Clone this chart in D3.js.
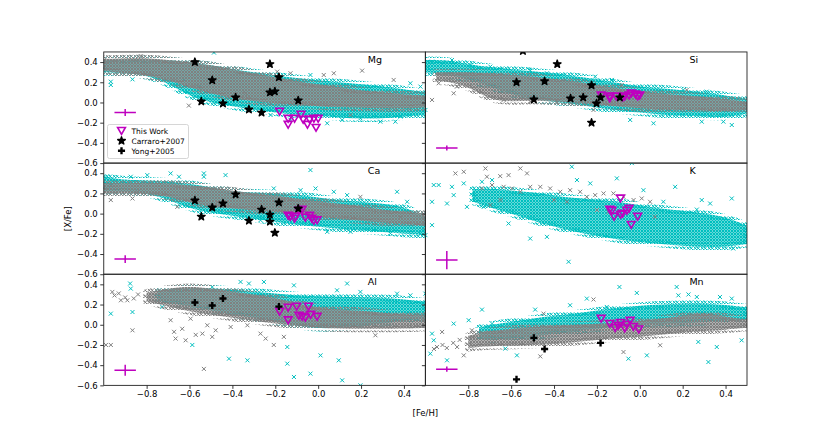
<!DOCTYPE html>
<html>
<head>
<meta charset="utf-8">
<script src="https://cdn.jsdelivr.net/npm/d3@7"></script>
<style>
body { margin: 0; background: #fff; }
text { font-family: "DejaVu Sans", sans-serif; }
</style>
</head>
<body>
<svg id="chart" width="830" height="433"></svg>
<script>
var elements = ['Mg', 'Si', 'Ca', 'K', 'Al', 'Mn'];
var fehTicks = [-0.8, -0.6, -0.4, -0.2, 0.0, 0.2, 0.4];
var xfeTicks = [0.4, 0.2, 0.0, -0.2, -0.4, -0.6];

// literature stars
var carraroFeh = [-0.575, -0.545, -0.494, -0.444, -0.385, -0.323, -0.264, -0.225, -0.225, -0.202, -0.183, -0.093];
var carraroMg = [0.40, 0.01, 0.22, -0.01, 0.05, -0.07, -0.10, 0.38, 0.10, 0.11, 0.25, 0.02];
var carraroSi = [0.20, 0.51, 0.03, 0.21, 0.38, 0.04, 0.05, 0.17, -0.20, -0.01, 0.05, 0.05];
var carraroCa = [0.13, -0.03, 0.06, 0.10, 0.19, -0.07, 0.04, -0.01, -0.08, -0.19, 0.11, 0.05];
var yongFeh = [-0.575, -0.494, -0.444, -0.183];
var yongAl = [0.22, 0.19, 0.26, 0.18];
var yongMn = [-0.54, -0.13, -0.24, -0.18];

// this work [Fe/H, X/Fe]
var twMg = [[-0.18, -0.09], [-0.14, -0.16], [-0.14, -0.22], [-0.11, -0.16], [-0.08, -0.12], [-0.07, -0.17], [-0.04, -0.17], [-0.05, -0.22], [-0.02, -0.16], [-0.01, -0.25], [0.0, -0.16]];
var twSi = [[-0.18, 0.07], [-0.14, 0.06], [-0.14, 0.04], [-0.11, 0.06], [-0.08, 0.05], [-0.07, 0.06], [-0.04, 0.09], [-0.05, 0.07], [-0.02, 0.08], [-0.01, 0.06], [0.0, 0.07]];
var twCa = [[-0.14, -0.02], [-0.11, -0.05], [-0.09, 0.03], [-0.075, 0.04], [-0.04, -0.02], [-0.02, -0.07], [-0.005, -0.065], [-0.105, -0.03], [-0.13, -0.03], [-0.06, -0.04], [-0.03, -0.05]];
var twK = [[-0.09, 0.15], [-0.14, 0.04], [-0.12, -0.03], [-0.09, -0.01], [-0.08, 0.0], [-0.05, 0.05], [-0.01, -0.03], [-0.04, -0.11], [-0.13, 0.03], [-0.06, 0.03]];
var twAl = [[-0.18, 0.13], [-0.14, 0.17], [-0.10, 0.18], [-0.14, 0.045], [-0.075, 0.08], [-0.045, 0.18], [-0.035, 0.10], [-0.005, 0.08], [-0.09, 0.09], [-0.06, 0.07]];
var twMn = [[-0.18, 0.06], [-0.14, 0.01], [-0.115, -0.03], [-0.09, 0.02], [-0.07, -0.035], [-0.045, 0.04], [-0.03, -0.02], [-0.005, -0.045], [-0.10, -0.01], [-0.06, 0.0]];

// typical errors [feh, x/fe, xerr, yerr]
var errMg = [-0.9, -0.10, 0.05, 0.035];
var errSi = [-0.9, -0.45, 0.05, 0.025];
var errCa = [-0.9, -0.45, 0.05, 0.038];
var errK = [-0.9, -0.46, 0.05, 0.09];
var errAl = [-0.9, -0.45, 0.05, 0.055];
var errMn = [-0.9, -0.44, 0.05, 0.026];

// dense parts of the comparison samples [feh, low, high]
var mgCyanBand = [[-1.0, 0.30, 0.42], [-0.9, 0.29, 0.43], [-0.8, 0.27, 0.43], [-0.7, 0.19, 0.42], [-0.6, 0.06, 0.40], [-0.5, 0.0, 0.37], [-0.4, -0.04, 0.33], [-0.3, -0.07, 0.30], [-0.2, -0.10, 0.27], [-0.1, -0.12, 0.24], [0.0, -0.13, 0.22], [0.1, -0.15, 0.20], [0.2, -0.16, 0.18], [0.3, -0.16, 0.16], [0.4, -0.14, 0.13], [0.5, -0.12, 0.10]];
var mgGrayBand = [[-1.0, 0.31, 0.43], [-0.9, 0.29, 0.44], [-0.8, 0.27, 0.44], [-0.7, 0.22, 0.42], [-0.6, 0.15, 0.40], [-0.5, 0.09, 0.37], [-0.4, 0.04, 0.33], [-0.3, 0.01, 0.29], [-0.2, -0.01, 0.25], [-0.1, -0.02, 0.21], [0.0, -0.04, 0.18], [0.1, -0.05, 0.15], [0.2, -0.05, 0.12], [0.3, -0.06, 0.10], [0.4, -0.06, 0.08], [0.5, -0.05, 0.07]];
var siCyanBand = [[-1.0, 0.30, 0.42], [-0.9, 0.28, 0.42], [-0.8, 0.23, 0.38], [-0.7, 0.16, 0.35], [-0.6, 0.08, 0.33], [-0.5, 0.03, 0.31], [-0.4, 0.01, 0.29], [-0.3, -0.02, 0.26], [-0.2, -0.05, 0.23], [-0.1, -0.08, 0.19], [0.0, -0.10, 0.16], [0.1, -0.12, 0.14], [0.2, -0.13, 0.12], [0.3, -0.14, 0.10], [0.4, -0.15, 0.07], [0.5, -0.11, 0.04]];
var siGrayBand = [[-0.95, 0.22, 0.30], [-0.8, 0.17, 0.30], [-0.7, 0.02, 0.29], [-0.6, 0.01, 0.27], [-0.5, 0.02, 0.26], [-0.4, 0.01, 0.23], [-0.3, 0.0, 0.21], [-0.2, -0.02, 0.17], [-0.1, -0.04, 0.14], [0.0, -0.06, 0.11], [0.1, -0.07, 0.09], [0.2, -0.07, 0.07], [0.3, -0.08, 0.06], [0.4, -0.09, 0.03], [0.5, -0.07, 0.01]];
var caCyanBand = [[-1.0, 0.22, 0.37], [-0.9, 0.22, 0.33], [-0.8, 0.20, 0.33], [-0.7, 0.14, 0.32], [-0.6, 0.05, 0.30], [-0.5, 0.01, 0.26], [-0.4, -0.02, 0.22], [-0.3, -0.05, 0.21], [-0.2, -0.08, 0.20], [-0.1, -0.11, 0.19], [0.0, -0.13, 0.16], [0.1, -0.15, 0.13], [0.2, -0.17, 0.12], [0.3, -0.18, 0.10], [0.4, -0.20, 0.07], [0.5, -0.21, -0.03]];
var caGrayBand = [[-1.0, 0.20, 0.30], [-0.9, 0.20, 0.30], [-0.8, 0.20, 0.31], [-0.7, 0.17, 0.30], [-0.6, 0.11, 0.28], [-0.5, 0.07, 0.26], [-0.4, 0.05, 0.23], [-0.3, 0.03, 0.20], [-0.2, 0.02, 0.18], [-0.1, 0.0, 0.15], [0.0, -0.03, 0.12], [0.1, -0.05, 0.10], [0.2, -0.07, 0.07], [0.3, -0.09, 0.04], [0.4, -0.10, 0.02], [0.5, -0.12, 0.0]];
var kCyanBand = [[-0.78, 0.12, 0.24], [-0.7, 0.06, 0.25], [-0.6, 0.0, 0.23], [-0.5, -0.07, 0.21], [-0.4, -0.13, 0.18], [-0.3, -0.18, 0.15], [-0.2, -0.22, 0.14], [-0.1, -0.26, 0.12], [0.0, -0.28, 0.08], [0.1, -0.30, 0.05], [0.2, -0.32, 0.03], [0.3, -0.33, 0.0], [0.4, -0.33, -0.03], [0.5, -0.30, -0.12]];
var kGrayBand = [];
var alCyanBand = [[-0.75, 0.24, 0.34], [-0.6, 0.18, 0.37], [-0.5, 0.14, 0.36], [-0.4, 0.10, 0.35], [-0.3, 0.07, 0.33], [-0.2, 0.03, 0.31], [-0.1, -0.01, 0.29], [0.0, -0.04, 0.28], [0.1, -0.03, 0.28], [0.2, -0.01, 0.27], [0.3, 0.01, 0.27], [0.4, 0.04, 0.25], [0.5, 0.06, 0.23]];
var alGrayBand = [[-0.8, 0.23, 0.32], [-0.7, 0.18, 0.36], [-0.6, 0.13, 0.38], [-0.5, 0.10, 0.36], [-0.4, 0.07, 0.33], [-0.3, 0.04, 0.30], [-0.2, 0.01, 0.27], [-0.1, -0.01, 0.21], [0.0, -0.03, 0.17], [0.1, -0.04, 0.15], [0.2, -0.04, 0.14], [0.3, -0.04, 0.12], [0.4, -0.04, 0.10], [0.5, -0.03, 0.10]];
var mnCyanBand = [[-0.75, -0.13, -0.03], [-0.7, -0.15, 0.0], [-0.6, -0.14, 0.03], [-0.5, -0.12, 0.06], [-0.4, -0.09, 0.09], [-0.3, -0.06, 0.11], [-0.2, -0.04, 0.14], [-0.1, -0.02, 0.17], [0.0, 0.0, 0.19], [0.1, 0.01, 0.20], [0.2, 0.01, 0.21], [0.3, 0.03, 0.21], [0.4, 0.04, 0.20], [0.5, 0.05, 0.17]];
var mnGrayBand = [[-0.8, -0.23, -0.11], [-0.75, -0.22, -0.08], [-0.7, -0.21, -0.06], [-0.6, -0.21, -0.04], [-0.5, -0.20, -0.02], [-0.4, -0.19, -0.01], [-0.3, -0.17, 0.0], [-0.2, -0.15, 0.01], [-0.1, -0.13, 0.02], [0.0, -0.12, 0.04], [0.1, -0.10, 0.06], [0.2, -0.08, 0.09], [0.3, -0.06, 0.12], [0.4, -0.05, 0.08], [0.5, -0.03, 0.05]];

// scattered stars outside the dense parts [feh, x/fe]
var mgCyanPts = [[-0.967, 0.206], [-0.967, 0.173], [-0.866, 0.229], [-0.486, 0.494], [0.042, -0.206], [0.36, -0.19], [0.43, 0.19], [-0.036, 0.272], [0.197, -0.157], [-0.129, -0.173], [-0.222, -0.124], [-0.556, 0.157], [-0.626, 0.223], [0.477, 0.157], [0.384, -0.14], [0.29, -0.19], [0.112, -0.173]];
var mgGrayPts = [[-0.603, -0.031], [0.205, 0.315], [0.026, 0.272], [0.073, 0.289], [-0.828, 0.46], [-0.998, 0.42], [-0.339, 0.091], [0.352, 0.223], [0.151, -0.124], [-0.191, 0.305], [-0.129, 0.289]];
var siCyanPts = [[-0.969, 0.404], [-0.915, 0.394], [-0.876, 0.42], [-0.79, 0.371], [-0.697, 0.355], [-0.208, 0.256], [-0.13, 0.223], [-0.045, -0.173], [0.064, -0.206], [0.289, -0.19], [0.39, -0.19], [0.429, -0.223], [0.312, 0.107], [0.203, 0.124], [-1.0, -0.074], [-0.433, 0.289], [-0.511, 0.32]];
var siGrayPts = [[-0.969, 0.025], [-0.938, 0.19], [-0.868, 0.091], [-0.853, 0.157], [-0.216, -0.074], [-0.084, 0.173], [0.219, 0.124], [-0.511, 0.008], [-0.387, 0.008], [-0.635, 0.025]];
var caCyanPts = [[-1.0, 0.365], [-0.967, 0.282], [-0.874, 0.365], [-0.797, 0.381], [-0.688, 0.398], [-0.649, 0.365], [-0.533, 0.365], [-0.533, 0.398], [-0.432, 0.381], [-0.036, 0.431], [-0.012, 0.249], [-0.207, 0.249], [-0.082, 0.232], [0.073, 0.216], [0.135, 0.183], [0.368, 0.216], [0.415, 0.117], [0.197, 0.067], [0.477, -0.196], [0.151, -0.18], [0.042, -0.18], [-0.269, -0.065], [-0.331, -0.048], [0.26, -0.163], [0.337, -0.196]];
var caGrayPts = [[-0.967, 0.134], [-0.866, 0.15], [-0.843, 0.216], [-0.657, 0.067], [-0.579, 0.134], [-0.47, 0.117], [0.384, -0.032], [0.197, 0.166]];
var kCyanPts = [[-0.961, 0.283], [-0.938, 0.283], [-0.876, 0.265], [-0.821, 0.299], [-0.775, 0.183], [-0.868, 0.183], [-0.899, 0.1], [-0.806, 0.067], [-0.969, 0.117], [-0.969, -0.114], [-1.0, -0.213], [-0.736, 0.315], [-0.689, 0.332], [-0.728, 0.067], [-0.612, -0.098], [-0.511, -0.247], [-0.433, -0.23], [-0.332, -0.477], [-0.317, 0.464], [-0.107, 0.349], [-0.037, 0.5], [0.165, 0.265], [0.266, 0.04], [0.289, 0.134], [0.429, 0.15], [0.436, -0.345], [0.328, 0.1], [0.11, 0.117], [0.017, 0.232], [-0.231, 0.299], [-0.293, 0.332]];
var kGrayPts = [[-0.86, 0.398], [-0.821, 0.414], [-0.72, 0.447], [-0.713, 0.365], [-0.651, 0.371], [-0.612, 0.381], [-0.557, 0.447], [-0.526, 0.398], [-0.736, 0.249], [-0.689, 0.283], [-0.635, 0.265], [-0.596, 0.249], [-0.557, 0.216], [-0.511, 0.265], [-0.464, 0.265], [-0.418, 0.249], [-0.371, 0.216], [-0.325, 0.232], [-0.278, 0.216], [-0.247, 0.166], [-0.208, 0.183], [-0.169, 0.2], [-0.123, 0.2], [-0.076, 0.166], [-0.029, 0.134], [0.009, 0.15], [0.048, 0.117], [0.071, -0.032], [-0.2, 0.035], [-0.146, 0.018], [-0.697, 0.084], [-0.65, 0.134], [-0.4, 0.134], [-0.34, 0.117]];
var alCyanPts = [[-0.967, 0.11], [-0.877, 0.408], [-0.874, 0.358], [-0.866, 0.126], [-0.727, 0.176], [-0.587, -0.2], [-0.494, 0.374], [-0.416, -0.336], [-0.33, -0.352], [-0.362, 0.424], [-0.323, 0.408], [-0.253, 0.424], [-0.144, -0.22], [-0.144, -0.385], [-0.113, -0.517], [-0.036, -0.484], [0.011, -0.303], [0.096, -0.352], [0.112, -0.55], [0.197, -0.6], [0.135, 0.408], [0.368, 0.308], [0.43, 0.291], [0.5, 0.308], [-0.113, 0.39], [0.088, 0.341], [0.197, 0.325]];
var alGrayPts = [[-0.96, 0.325], [-0.92, 0.242], [-0.89, 0.242], [-0.95, 0.29], [-0.93, 0.31], [-0.9, 0.27], [-0.86, 0.26], [-0.84, 0.3], [-0.99, -0.2], [-0.967, -0.2], [-0.866, -0.055], [-0.688, 0.045], [-0.672, -0.07], [-0.665, -0.137], [-0.634, -0.04], [-0.618, -0.154], [-0.595, 0.06], [-0.571, -0.1], [-0.54, -0.088], [-0.517, -0.005], [-0.494, -0.12], [-0.478, -0.055], [-0.408, -0.022], [-0.533, -0.437], [-0.33, -0.005], [-0.269, -0.088], [-0.207, -0.2], [-0.16, -0.12], [-0.245, -0.137], [0.267, -0.104]];
var mnCyanPts = [[-0.969, -0.088], [-0.961, -0.154], [-0.977, -0.286], [-0.899, -0.352], [-0.868, 0.011], [-0.798, 0.045], [-0.736, 0.15], [-0.689, 0.011], [-0.627, -0.236], [-0.573, -0.303], [-0.488, 0.15], [-0.325, 0.193], [-0.247, 0.259], [-0.095, 0.374], [-0.014, 0.315], [-0.053, -0.336], [0.033, -0.303], [0.172, 0.374], [0.18, 0.291], [0.227, 0.3], [0.266, 0.275], [0.32, -0.369], [0.429, 0.259], [0.475, -0.154], [0.359, -0.22], [0.273, -0.17], [0.374, 0.275], [-0.154, 0.176]];
var mnGrayPts = [[-0.922, -0.071], [-0.946, -0.22], [-0.852, -0.22], [-0.821, -0.303], [-0.783, -0.055], [-0.96, -0.24], [-0.92, -0.2], [-0.9, -0.23], [-0.87, -0.18], [-0.84, -0.15], [-0.464, -0.313], [-0.449, 0.11], [-0.216, 0.25], [-0.076, -0.27], [0.095, -0.203]];

var pair = function (feh, vals) {
  return feh.map(function (f, i) { return [f, vals[i]]; });
};

var panels = [
  { name: 'Mg', cyanBand: mgCyanBand, grayBand: mgGrayBand, cyanPts: mgCyanPts, grayPts: mgGrayPts, tw: twMg, err: errMg, stars: pair(carraroFeh, carraroMg), plus: [] },
  { name: 'Si', cyanBand: siCyanBand, grayBand: siGrayBand, cyanPts: siCyanPts, grayPts: siGrayPts, tw: twSi, err: errSi, stars: pair(carraroFeh, carraroSi), plus: [] },
  { name: 'Ca', cyanBand: caCyanBand, grayBand: caGrayBand, cyanPts: caCyanPts, grayPts: caGrayPts, tw: twCa, err: errCa, stars: pair(carraroFeh, carraroCa), plus: [] },
  { name: 'K', cyanBand: kCyanBand, grayBand: kGrayBand, cyanPts: kCyanPts, grayPts: kGrayPts, tw: twK, err: errK, stars: [], plus: [] },
  { name: 'Al', cyanBand: alCyanBand, grayBand: alGrayBand, cyanPts: alCyanPts, grayPts: alGrayPts, tw: twAl, err: errAl, stars: [], plus: pair(yongFeh, yongAl) },
  { name: 'Mn', cyanBand: mnCyanBand, grayBand: mnGrayBand, cyanPts: mnCyanPts, grayPts: mnGrayPts, tw: twMn, err: errMn, stars: [], plus: pair(yongFeh, yongMn) }
];

var cyan = '#00bfbf', grey = '#808080', magenta = '#bf00bf';
var figLeft = 103.75, figRight = 747, figTop = 51.96, figBottom = 385.37;
var colW = (figRight - figLeft) / 2, rowH = (figBottom - figTop) / 3;
var fmt = d3.format('.1f');

var svg = d3.select('#chart');
var defs = svg.append('defs');

// textures standing in for thousands of overlapping 'x' markers:
// a dense one for the core of each sample and a loose one for its ragged edge
[['cyan', cyan], ['grey', grey]].forEach(function (p) {
  var core = defs.append('pattern')
    .attr('id', p[0] + 'Core')
    .attr('width', 3)
    .attr('height', 3)
    .attr('patternUnits', 'userSpaceOnUse');
  core.append('rect')
    .attr('width', 3).attr('height', 3)
    .attr('fill', p[1]).attr('fill-opacity', 0.6);
  core.append('path')
    .attr('d', 'M0,0L3,3M3,0L0,3')
    .attr('stroke', p[1])
    .attr('stroke-width', 1);

  var edge = defs.append('pattern')
    .attr('id', p[0] + 'Edge')
    .attr('width', 7)
    .attr('height', 6)
    .attr('patternUnits', 'userSpaceOnUse');
  edge.append('path')
    .attr('d', 'M0.5,0.5L4,4M4,0.5L0.5,4')
    .attr('stroke', p[1])
    .attr('stroke-width', 1);
  edge.append('path')
    .attr('d', 'M3.5,3.5L7,7M7,3.5L3.5,7')
    .attr('stroke', p[1])
    .attr('stroke-width', 1)
    .attr('transform', 'translate(0,-3)');
});

var crossPath = 'M-2,-2L2,2M-2,2L2,-2';
var triPath = 'M-3.9,-3.3L3.9,-3.3L0,3.5Z';
var starSymbol = d3.symbol().type(d3.symbolStar).size(18);
var plusSymbol = d3.symbol().type(d3.symbolCross).size(28);

var drawStar = function (sel) {
  sel.append('path')
    .attr('d', starSymbol)
    .attr('fill', '#000')
    .attr('stroke', '#000')
    .attr('stroke-width', 1.4)
    .attr('stroke-linejoin', 'round');
};

panels.forEach(function (p, i) {
  var col = i % 2, row = Math.floor(i / 2);
  var x0 = figLeft + col * colW, y0 = figTop + row * rowH;
  var x = d3.scaleLinear().domain([-1.0, 0.5]).range([x0, x0 + colW]);
  var y = d3.scaleLinear().domain([-0.6, 0.5]).range([y0 + rowH, y0]);
  var place = function (d) { return 'translate(' + x(d[0]) + ',' + y(d[1]) + ')'; };

  defs.append('clipPath').attr('id', 'clip' + p.name)
    .append('rect').attr('x', x0).attr('y', y0).attr('width', colW).attr('height', rowH);

  var g = svg.append('g').attr('clip-path', 'url(#clip' + p.name + ')');

  var area = d3.area()
    .x(function (d) { return x(d[0]); })
    .y0(function (d) { return y(d[1]); })
    .y1(function (d) { return y(d[2]); })
    .curve(d3.curveBasis);

  var drawCloud = function (band, pts, color, name) {
    if (band.length) {
      g.append('path').datum(band)
        .attr('d', area)
        .attr('fill', 'none')
        .attr('stroke', 'url(#' + name + 'Edge)')
        .attr('stroke-width', 7)
        .attr('stroke-linejoin', 'round');
      g.append('path').datum(band)
        .attr('d', area)
        .attr('fill', 'url(#' + name + 'Core)');
    }
    g.selectAll(null).data(pts).enter().append('path')
      .attr('d', crossPath)
      .attr('transform', place)
      .attr('fill', 'none')
      .attr('stroke', color)
      .attr('stroke-width', 1);
  };

  drawCloud(p.cyanBand, p.cyanPts, cyan, 'cyan');
  drawCloud(p.grayBand, p.grayPts, grey, 'grey');

  // typical error bar
  var e = p.err;
  g.append('line')
    .attr('x1', x(e[0] - e[2])).attr('x2', x(e[0] + e[2]))
    .attr('y1', y(e[1])).attr('y2', y(e[1]))
    .attr('stroke', magenta).attr('stroke-width', 1.5);
  g.append('line')
    .attr('x1', x(e[0])).attr('x2', x(e[0]))
    .attr('y1', y(e[1] - e[3])).attr('y2', y(e[1] + e[3]))
    .attr('stroke', magenta).attr('stroke-width', 1.5);

  g.selectAll(null).data(p.tw).enter().append('path')
    .attr('d', triPath)
    .attr('transform', place)
    .attr('fill', 'none')
    .attr('stroke', magenta)
    .attr('stroke-width', 1.6);

  g.selectAll(null).data(p.stars).enter().append('g')
    .attr('transform', place)
    .call(drawStar);

  g.selectAll(null).data(p.plus).enter().append('path')
    .attr('d', plusSymbol)
    .attr('transform', place)
    .attr('fill', '#000');

  // frame
  svg.append('rect')
    .attr('x', x0).attr('y', y0).attr('width', colW).attr('height', rowH)
    .attr('fill', 'none').attr('stroke', '#222').attr('stroke-width', 0.9);

  // y ticks on the left of every panel, labels only in the left column
  var yAxis = svg.append('g')
    .attr('transform', 'translate(' + x0 + ',0)')
    .call(d3.axisLeft(y).tickValues(xfeTicks).tickSize(3.5).tickPadding(2.5)
      .tickFormat(col === 0 ? fmt : ''));
  yAxis.select('.domain').remove();
  yAxis.selectAll('line').attr('stroke', '#222').attr('stroke-width', 0.9);
  yAxis.selectAll('text').attr('font-size', 8.5).attr('fill', '#000')
    .attr('font-family', '"DejaVu Sans", sans-serif');

  if (row === 2) {
    var xAxis = svg.append('g')
      .attr('transform', 'translate(0,' + (y0 + rowH) + ')')
      .call(d3.axisBottom(x).tickValues(fehTicks).tickSize(3.5).tickPadding(2.5).tickFormat(fmt));
    xAxis.select('.domain').remove();
    xAxis.selectAll('line').attr('stroke', '#222').attr('stroke-width', 0.9);
    xAxis.selectAll('text').attr('font-size', 8.5).attr('fill', '#000')
      .attr('font-family', '"DejaVu Sans", sans-serif');
  }

  svg.append('text')
    .attr('x', x0 + 264).attr('y', y0 + 11)
    .attr('font-size', 9.5)
    .text(p.name);
});

// legend in the Mg panel
var legend = svg.append('g').attr('transform', 'translate(107.5,124.5)');
legend.append('rect')
  .attr('width', 81).attr('height', 34).attr('rx', 2)
  .attr('fill', '#fff').attr('fill-opacity', 0.8)
  .attr('stroke', '#ccc').attr('stroke-width', 0.8);
var legendItems = ['This Work', 'Carraro+2007', 'Yong+2005'];
legendItems.forEach(function (label, i) {
  var ly = 6.3 + i * 10;
  var mark = legend.append('g').attr('transform', 'translate(14,' + ly + ')');
  if (i === 0) {
    mark.append('path').attr('d', triPath).attr('fill', 'none')
      .attr('stroke', magenta).attr('stroke-width', 1.6);
  } else if (i === 1) {
    mark.call(drawStar);
  } else {
    mark.append('path').attr('d', plusSymbol).attr('fill', '#000');
  }
  legend.append('text')
    .attr('x', 24).attr('y', ly + 2.7)
    .attr('font-size', 7.5)
    .text(label);
});

svg.append('text')
  .attr('x', (figLeft + figRight) / 2).attr('y', 416)
  .attr('text-anchor', 'middle').attr('font-size', 8.5)
  .text('[Fe/H]');

svg.append('text')
  .attr('transform', 'translate(71,' + ((figTop + figBottom) / 2) + ') rotate(-90)')
  .attr('text-anchor', 'middle').attr('font-size', 8.5)
  .text('[X/Fe]');
</script>
</body>
</html>
